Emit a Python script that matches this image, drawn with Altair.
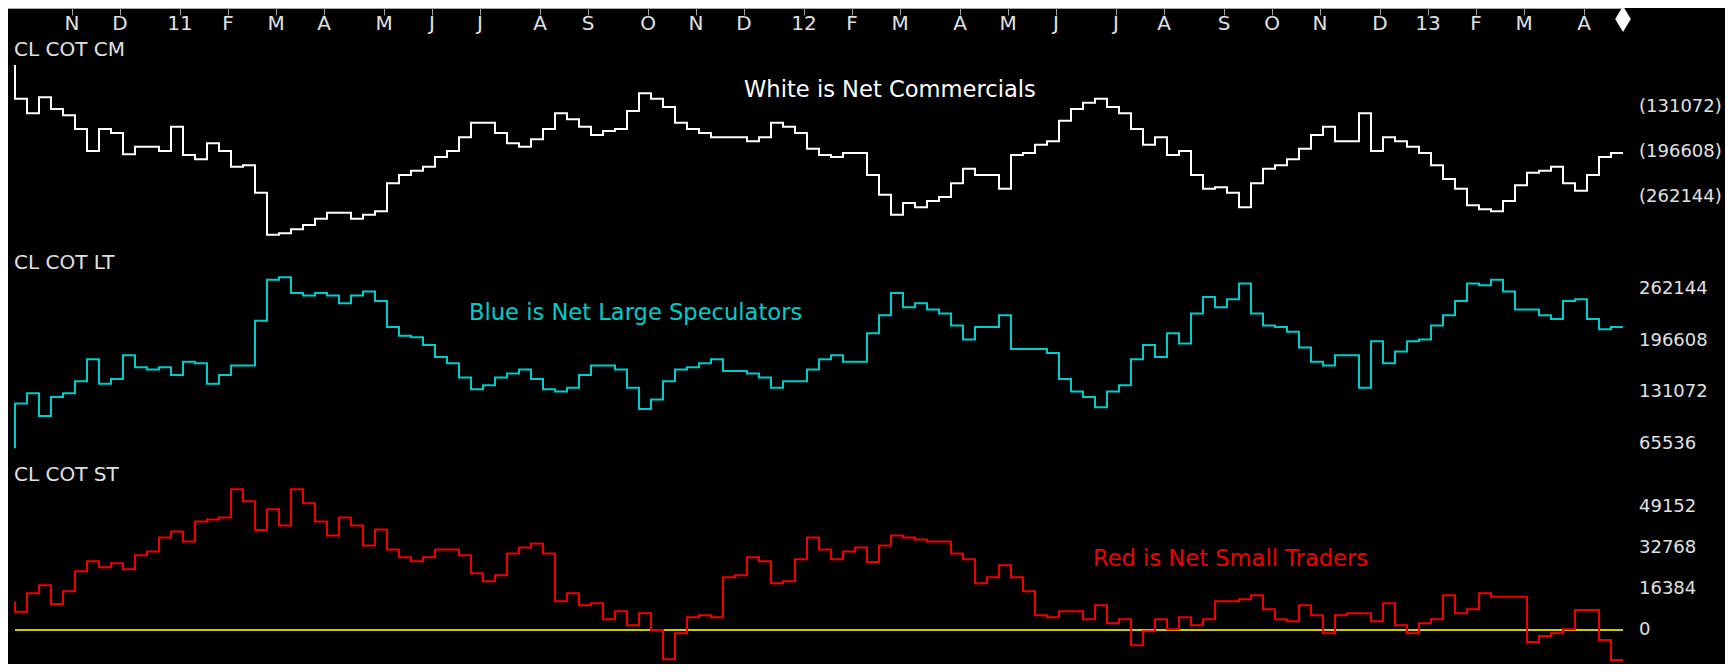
import altair as alt
import pandas as pd
from datetime import datetime, timedelta, timezone

# ---------------- data (weekly COT net positions, thousands of contracts) -------------
FIRST_WEEK = "2010-09-28"

cm = [-70, -119, -140, -117, -134, -143, -163, -195, -163, -169,
      -200, -189, -189, -195, -160, -201, -207, -184, -195, -218,
      -216, -256, -317, -315, -309, -303, -294, -285, -285, -294,
      -288, -283, -242, -230, -224, -218, -204, -195, -175, -154,
      -154, -169, -184, -189, -178, -163, -140, -149, -160, -172,
      -166, -163, -137, -111, -119, -131, -154, -163, -169, -175,
      -175, -175, -181, -175, -154, -160, -169, -192, -201, -204,
      -198, -198, -230, -259, -288, -271, -277, -268, -262, -242,
      -221, -230, -230, -250, -201, -198, -186, -181, -151, -134,
      -125, -119, -131, -140, -163, -186, -175, -201, -195, -230,
      -250, -248, -256, -277, -242, -221, -216, -207, -192, -172,
      -160, -181, -181, -140, -195, -175, -181, -189, -198, -216,
      -236, -250, -274, -280, -283, -268, -245, -227, -224, -218,
      -242, -253, -230, -204, -198]

lt = [60, 117, 130, 101, 125, 130, 145, 173, 142, 148,
      178, 163, 160, 163, 153, 170, 168, 142, 153, 165,
      165, 222, 274, 277, 257, 254, 257, 254, 244, 254,
      259, 247, 214, 203, 201, 191, 176, 168, 150, 135,
      140, 150, 155, 160, 148, 135, 132, 137, 153, 165,
      165, 160, 137, 110, 122, 145, 160, 163, 168, 173,
      158, 158, 155, 150, 137, 145, 145, 160, 173, 178,
      170, 170, 206, 229, 257, 239, 244, 236, 231, 216,
      198, 214, 214, 229, 186, 186, 186, 181, 148, 132,
      125, 112, 132, 140, 173, 191, 176, 206, 193, 231,
      252, 239, 249, 269, 231, 216, 214, 208, 188, 170,
      165, 178, 178, 137, 196, 168, 183, 196, 198, 216,
      229, 247, 269, 267, 274, 259, 236, 236, 229, 224,
      247, 249, 224, 211, 214]

st = [11.3, 7.3, 14.7, 17.9, 10.4, 15.5, 23.5, 27.5, 25.1, 26.7,
      24.3, 29.9, 31.4, 37.0, 39.4, 35.4, 43.4, 44.2, 45.0, 56.2,
      51.4, 40.0, 48.2, 41.8, 56.2, 50.6, 43.4, 37.8, 45.0, 41.8,
      33.8, 40.2, 32.2, 29.1, 27.5, 29.1, 32.2, 32.2, 29.9, 22.7,
      19.5, 21.9, 30.6, 33.0, 34.6, 30.6, 11.5, 14.7, 9.9, 10.7,
      4.3, 7.5, 1.9, 6.7, 0.0, -11.7, -1.3, 5.1, 5.9, 5.1,
      21.1, 21.9, 29.1, 27.5, 18.7, 19.5, 28.3, 37.0, 32.2, 28.3,
      31.4, 33.0, 27.2, 33.8, 37.8, 37.0, 36.2, 35.4, 35.4, 30.6,
      28.3, 18.7, 21.1, 25.9, 21.1, 15.5, 5.9, 5.1, 7.5, 7.5,
      4.3, 9.9, 2.7, 4.3, -6.1, -0.5, 4.3, 0.3, 5.1, 1.9,
      4.3, 11.5, 11.5, 12.3, 13.9, 8.3, 4.3, 3.5, 9.9, 5.9,
      -1.3, 5.9, 6.7, 6.7, 3.5, 10.7, 1.9, -1.3, 2.7, 4.3,
      13.9, 6.7, 8.3, 14.7, 13.3, 13.3, 13.3, -4.8, -2.4, -1.3,
      0.3, 8.0, 8.0, -4.0, -12.0]

cm_ticks = [-131.072, -196.608, -262.144]
cm_tick_labels = ["(131072)", "(196608)", "(262144)"]
lt_ticks = [262.144, 196.608, 131.072, 65.536]
lt_tick_labels = ["262144", "196608", "131072", "65536"]
st_ticks = [49.152, 32.768, 16.384, 0.0]
st_tick_labels = ["49152", "32768", "16384", "0"]

panel_titles = ["CL COT CM", "CL COT LT", "CL COT ST"]
notes = ["White is Net Commercials", "Blue is Net Large Speculators", "Red is Net Small Traders"]

# ---------------- layout / styling ----------------
W, H = 1717, 656
FONT = "DejaVu Sans"
PX_PER_DAY = 12 / 7
BG = "#000000"
WHITE = "#FFFFFF"
CYAN = "#00CCCC"
RED = "#EE0000"
YELLOW = "#CCCC00"
LABEL = "#E0E0E0"
GREY = "#A8A8A8"

CM_DOM = [-942.29, 13.11]
LT_DOM = [-213.51, 618.56]
ST_DOM = [-13.59, 248.55]


def ms(dt):
    return int(dt.replace(tzinfo=timezone.utc).timestamp() * 1000)


first = datetime.strptime(FIRST_WEEK, "%Y-%m-%d")
t0 = first - timedelta(days=7 / PX_PER_DAY)
t1 = t0 + timedelta(days=W / PX_PER_DAY)
x_domain = [ms(t0), ms(t1)]

# month marks sit at the start (Sunday) of the first weekly bar (Friday release) of each month
month_ticks = []
for m in pd.date_range("2010-11-01", "2013-04-01", freq="MS").to_pydatetime():
    first_friday = m + timedelta(days=(4 - m.weekday()) % 7)
    month_ticks.append(ms(first_friday - timedelta(days=5)))

dates = pd.date_range(FIRST_WEEK, periods=len(cm), freq="7D")
df = pd.DataFrame({"date": dates.strftime("%Y-%m-%d"), "cm": cm, "lt": lt, "st": st})
last_ms = ms(dates[-1].to_pydatetime())

x_scale = alt.Scale(type="utc", domain=x_domain, nice=False)
x_axis = alt.Axis(
    orient="bottom", offset=-H, values=month_ticks, domain=False, grid=False,
    ticks=True, tickSize=7, tickColor=GREY, tickWidth=1,
    labelColor=LABEL, labelFont=FONT, labelFontSize=20, labelPadding=8,
    labelBaseline="middle", labelAlign="center", labelOverlap=False, labelFlush=False,
    labelExpr=(
        "utcFormat(time(datum.value) + 432000000, '%m') == '01' ? "
        "utcFormat(time(datum.value) + 432000000, '%y') : "
        "substring(utcFormat(time(datum.value) + 432000000, '%b'), 0, 1)"
    ),
    title=None,
)


def X(field):
    return alt.X(field, type="temporal", scale=x_scale, axis=x_axis)


def Y(field, dom):
    return alt.Y(field, type="quantitative", scale=alt.Scale(domain=dom, nice=False, zero=False), axis=None)


# top axis line
rule_df = pd.DataFrame({"a": [x_domain[0]], "b": [last_ms]})
top_line = alt.Chart(rule_df).mark_rule(color=GREY, strokeWidth=1).encode(
    x=X("a"), x2="b:T", y=alt.value(0.5)
)

# zero line of the small-trader panel
zero_df = pd.DataFrame({"a": [df["date"].iloc[0]], "b": [df["date"].iloc[-1]], "z": [0.0]})
zero_line = alt.Chart(zero_df).mark_rule(color=YELLOW, strokeWidth=2).encode(
    x=X("a"), x2="b:T", y=Y("z", ST_DOM)
)

base = alt.Chart(df)
cm_line = base.mark_line(color=WHITE, strokeWidth=2, interpolate="step-before").encode(x=X("date"), y=Y("cm", CM_DOM))
lt_line = base.mark_line(color=CYAN, strokeWidth=2, interpolate="step-before").encode(x=X("date"), y=Y("lt", LT_DOM))
st_line = base.mark_line(color=RED, strokeWidth=2, interpolate="step-before").encode(x=X("date"), y=Y("st", ST_DOM))


def tick_labels(vals, labs, dom):
    d = pd.DataFrame({"v": vals, "label": labs})
    return alt.Chart(d).mark_text(
        align="left", baseline="middle", font=FONT, fontSize=18, color=LABEL
    ).encode(x=alt.value(1631), y=Y("v", dom), text="label:N")


def free_text(txt, px, py, color, size):
    d = pd.DataFrame({"t": [txt]})
    return alt.Chart(d).mark_text(
        align="left", baseline="middle", font=FONT, fontSize=size, color=color
    ).encode(x=alt.value(px), y=alt.value(py), text="t:N")


diamond = alt.Chart(df.tail(1)).mark_point(
    shape="M0,-1L0.6,0L0,1L-0.6,0Z", size=676, filled=True, color=WHITE, opacity=1
).encode(x=X("date"), y=alt.value(11))

chart = alt.layer(
    top_line,
    zero_line,
    cm_line,
    lt_line,
    st_line,
    tick_labels(cm_ticks, cm_tick_labels, CM_DOM),
    tick_labels(lt_ticks, lt_tick_labels, LT_DOM),
    tick_labels(st_ticks, st_tick_labels, ST_DOM),
    free_text(panel_titles[0], 6, 42, LABEL, 20),
    free_text(panel_titles[1], 6, 255, LABEL, 20),
    free_text(panel_titles[2], 6, 467, LABEL, 20),
    free_text(notes[0], 736, 82, WHITE, 22.6),
    free_text(notes[1], 461, 305, CYAN, 22.6),
    free_text(notes[2], 1085, 551, RED, 22.6),
    diamond,
).resolve_scale(y="independent").properties(
    width=W, height=H, padding=0, background=BG,
    autosize=alt.AutoSizeParams(type="none"),
    usermeta={"embedOptions": {"defaultStyle": "html, body { background: #000000; }"}},
).configure_view(stroke=None)

chart.save("out.html", embed_options={"renderer": "svg", "actions": False})
